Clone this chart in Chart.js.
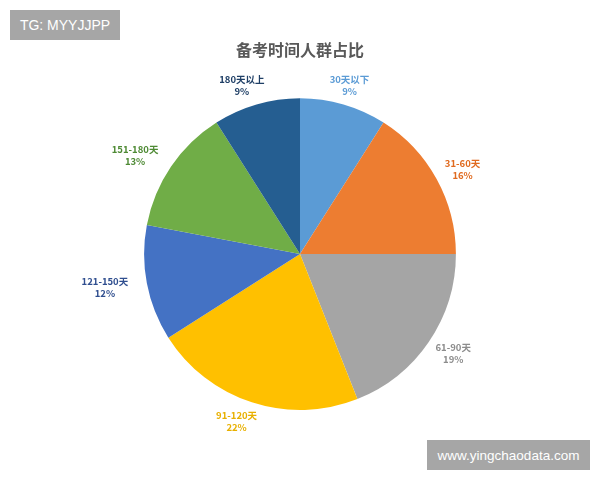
<!DOCTYPE html>
<html>
<head>
<meta charset="utf-8">
<script src="https://cdn.jsdelivr.net/npm/chart.js@4.4.1/dist/chart.umd.min.js"></script>
<style>
  html, body { margin: 0; padding: 0; background: #fff; }
  #wrap { position: relative; width: 600px; height: 480px; }
  .mark {
    position: absolute;
    background: #a6a6a6;
    color: #fff;
    font-family: "Liberation Sans", Arial, sans-serif;
    display: flex;
    align-items: center;
    justify-content: center;
  }
  #tg { left: 10px; top: 10px; width: 110px; height: 30px; font-size: 14px; }
  #site { left: 427px; top: 440px; width: 163px; height: 30px; font-size: 13.5px; }
</style>
</head>
<body>
<div id="wrap">
  <canvas id="pie" width="600" height="480"></canvas>
  <div class="mark" id="tg">TG: MYYJJPP</div>
  <div class="mark" id="site">www.yingchaodata.com</div>
</div>
<script>
const labels = ['30天以下', '31-60天', '61-90天', '91-120天', '121-150天', '151-180天', '180天以上'];
const shares = [9, 16, 19, 22, 12, 13, 9];

const sliceColors = ['#5B9BD5', '#ED7D31', '#A5A5A5', '#FFC000', '#4472C4', '#70AD47', '#255E91'];
const labelColors = ['#5B9BD5', '#E06A1F', '#8C8C8C', '#E8B000', '#2F4E8F', '#4E8A34', '#1F3F66'];

// draws "name / pct%" outside each slice, placed from the arc geometry
const outsideLabels = {
  id: 'outsideLabels',
  afterDatasetsDraw(chart) {
    const ctx = chart.ctx;
    const meta = chart.getDatasetMeta(0);
    ctx.save();
    ctx.font = 'bold 9.5px "Noto Sans CJK SC", "DejaVu Sans", sans-serif';
    ctx.textAlign = 'center';
    ctx.textBaseline = 'middle';
    meta.data.forEach((arc, i) => {
      const p = arc.getProps(['x', 'y', 'startAngle', 'endAngle', 'outerRadius'], true);
      const mid = (p.startAngle + p.endAngle) / 2;
      const half = ctx.measureText(labels[i]).width / 2;
      const r = p.outerRadius + 20;
      const lx = p.x + Math.cos(mid) * r + Math.cos(mid) * half * 0.8 - 4;
      const ly = p.y + Math.sin(mid) * r;
      ctx.fillStyle = labelColors[i];
      ctx.fillText(labels[i], lx, ly - 6);
      ctx.fillText(shares[i] + '%', lx, ly + 6);
    });
    ctx.restore();
  }
};

new Chart(document.getElementById('pie'), {
  type: 'pie',
  plugins: [outsideLabels],
  data: {
    labels: labels,
    datasets: [{
      data: shares,
      backgroundColor: sliceColors,
      borderWidth: 0
    }]
  },
  options: {
    responsive: false,
    animation: false,
    layout: { padding: { top: 0, bottom: 70, left: 140, right: 140 } },
    plugins: {
      legend: { display: false },
      tooltip: { enabled: false },
      title: {
        display: true,
        text: '备考时间人群占比',
        color: '#595959',
        font: { family: '"Noto Sans CJK SC", sans-serif', size: 16, weight: 'bold' },
        padding: { top: 40, bottom: 39 }
      }
    }
  }
});
</script>
</body>
</html>
